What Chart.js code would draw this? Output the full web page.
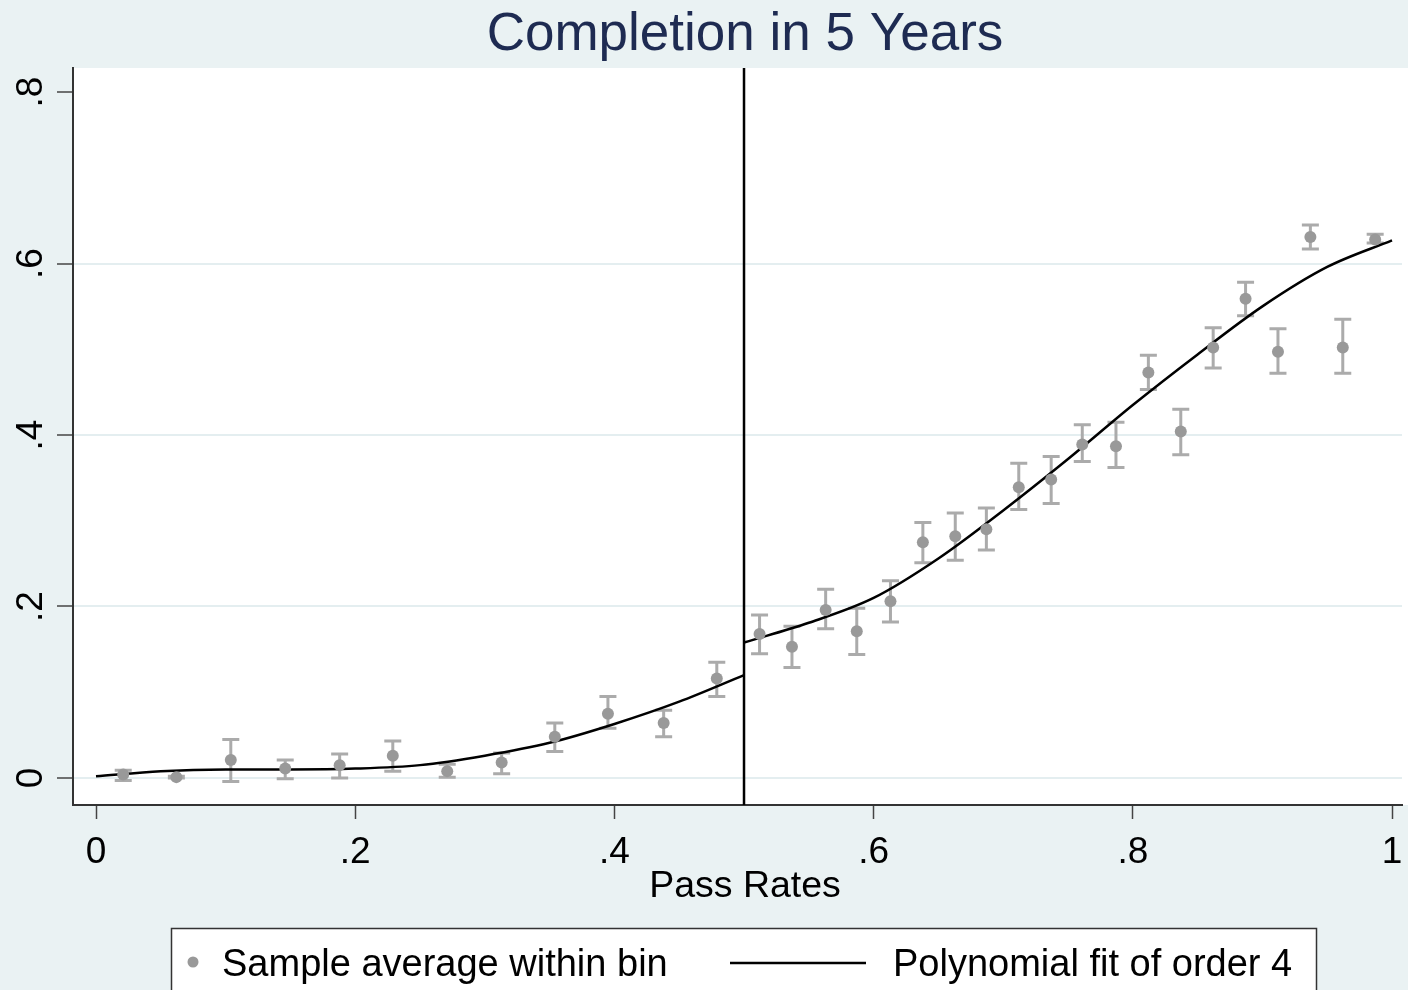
<!DOCTYPE html>
<html>
<head>
<meta charset="utf-8">
<script src="https://cdn.jsdelivr.net/npm/chart.js@4.4.1/dist/chart.umd.min.js"></script>
<style>
html,body{margin:0;padding:0;background:#EAF2F3;}
canvas{display:block;}
</style>
</head>
<body>
<canvas id="c" width="1408" height="990"></canvas>
<script>
// ---- data ----
const titleText = "Completion in 5 Years";
const xAxisTitle = "Pass Rates";
const legendLabels = ["Sample average within bin", "Polynomial fit of order 4"];
const xTickValues = [0, 0.2, 0.4, 0.6, 0.8, 1];
const xTickLabels = ["0", ".2", ".4", ".6", ".8", "1"];
const yTickValues = [0, 0.2, 0.4, 0.6, 0.8];
const yTickLabels = ["0", ".2", ".4", ".6", ".8"];
const cutoff = 0.5;

const binX = [0.021, 0.062, 0.104, 0.146, 0.188, 0.229, 0.271, 0.313, 0.354, 0.395, 0.438, 0.479,
              0.512, 0.537, 0.563, 0.587, 0.613, 0.638, 0.663, 0.687, 0.712, 0.737, 0.761, 0.787,
              0.812, 0.837, 0.862, 0.887, 0.912, 0.937, 0.962, 0.987];
const binMean = [0.004, 0.001, 0.021, 0.011, 0.015, 0.026, 0.008, 0.018, 0.048, 0.075, 0.064, 0.116,
                 0.168, 0.153, 0.196, 0.171, 0.206, 0.275, 0.282, 0.290, 0.339, 0.348, 0.389, 0.387,
                 0.473, 0.404, 0.502, 0.559, 0.497, 0.631, 0.502, 0.628];
const binLow = [-0.003, 0.000, -0.004, -0.001, 0.000, 0.008, 0.001, 0.005, 0.031, 0.058, 0.048, 0.095,
                0.145, 0.129, 0.174, 0.144, 0.182, 0.251, 0.254, 0.266, 0.313, 0.320, 0.369, 0.362,
                0.453, 0.377, 0.478, 0.539, 0.472, 0.617, 0.472, 0.624];
const binHigh = [0.009, 0.002, 0.045, 0.021, 0.028, 0.043, 0.016, 0.029, 0.064, 0.095, 0.079, 0.135,
                 0.190, 0.177, 0.220, 0.198, 0.230, 0.298, 0.309, 0.315, 0.367, 0.375, 0.412, 0.415,
                 0.493, 0.430, 0.525, 0.578, 0.524, 0.645, 0.535, 0.634];

const fitLeftX = [0, 0.05, 0.1, 0.15, 0.2, 0.25, 0.3, 0.35, 0.4, 0.45, 0.5];
const fitLeftY = [0.002, 0.008, 0.010, 0.010, 0.011, 0.015, 0.026, 0.041, 0.063, 0.089, 0.120];
const fitRightX = [0.5, 0.55, 0.6, 0.65, 0.7, 0.75, 0.8, 0.85, 0.9, 0.95, 1.0];
const fitRightY = [0.158, 0.181, 0.210, 0.256, 0.312, 0.372, 0.435, 0.494, 0.550, 0.596, 0.627];

// ---- styles ----
const FONT = '"Liberation Sans", Arial, Helvetica, sans-serif';
const BG = '#EAF2F3';
const DOT = '#999999';
const BAR = '#ABABAB';

const toPts = (xs, ys) => xs.map((x, i) => ({x: x, y: ys[i]}));

const decorPlugin = {
  id: 'decor',
  beforeDraw(chart) {
    const {ctx, chartArea: a} = chart;
    ctx.save();
    ctx.fillStyle = BG;
    ctx.fillRect(0, 0, chart.width, chart.height);
    ctx.fillStyle = '#FFFFFF';
    ctx.fillRect(a.left, a.top, chart.width - a.left, a.bottom - a.top);
    ctx.restore();
  },
  beforeDatasetsDraw(chart) {
    const {ctx, chartArea: a} = chart;
    const xs = chart.scales.x, ys = chart.scales.y;
    ctx.save();
    // cutoff line
    ctx.strokeStyle = '#000000';
    ctx.lineWidth = 2.5;
    const cx = xs.getPixelForValue(cutoff);
    ctx.beginPath();
    ctx.moveTo(cx, a.top);
    ctx.lineTo(cx, a.bottom);
    ctx.stroke();
    // error bars
    ctx.strokeStyle = BAR;
    ctx.lineWidth = 3;
    for (let i = 0; i < binX.length; i++) {
      const px = xs.getPixelForValue(binX[i]);
      const y1 = ys.getPixelForValue(binLow[i]);
      const y2 = ys.getPixelForValue(binHigh[i]);
      ctx.beginPath();
      ctx.moveTo(px, y1); ctx.lineTo(px, y2);
      ctx.moveTo(px - 8.5, y1); ctx.lineTo(px + 8.5, y1);
      ctx.moveTo(px - 8.5, y2); ctx.lineTo(px + 8.5, y2);
      ctx.stroke();
    }
    ctx.restore();
  },
  afterDraw(chart) {
    const {ctx} = chart;
    const xs = chart.scales.x, ys = chart.scales.y;
    ctx.save();
    // title
    ctx.fillStyle = '#1E2B52';
    ctx.font = '53px ' + FONT;
    ctx.textAlign = 'center';
    ctx.textBaseline = 'alphabetic';
    ctx.fillText(titleText, 745, 50);
    // x tick labels
    ctx.fillStyle = '#000000';
    ctx.font = '37px ' + FONT;
    xTickValues.forEach((v, i) => {
      ctx.fillText(xTickLabels[i], xs.getPixelForValue(v), 863);
    });
    // x axis title
    ctx.font = '37.5px ' + FONT;
    ctx.fillText(xAxisTitle, 745, 897);
    // y tick labels rotated
    ctx.font = '37px ' + FONT;
    yTickValues.forEach((v, i) => {
      ctx.save();
      ctx.translate(42, ys.getPixelForValue(v));
      ctx.rotate(-Math.PI / 2);
      ctx.textAlign = 'center';
      ctx.textBaseline = 'alphabetic';
      ctx.fillText(yTickLabels[i], 0, 0);
      ctx.restore();
    });
    // legend
    ctx.fillStyle = '#FFFFFF';
    ctx.fillRect(171, 928, 1146, 70);
    ctx.strokeStyle = '#333333';
    ctx.lineWidth = 1.5;
    ctx.strokeRect(171.5, 928.5, 1145, 70);
    ctx.fillStyle = DOT;
    ctx.beginPath();
    ctx.arc(193, 962, 5.5, 0, Math.PI * 2);
    ctx.fill();
    ctx.fillStyle = '#000000';
    ctx.font = '38px ' + FONT;
    ctx.textAlign = 'left';
    ctx.fillText(legendLabels[0], 222, 976);
    ctx.strokeStyle = '#000000';
    ctx.lineWidth = 2.5;
    ctx.beginPath();
    ctx.moveTo(730, 963); ctx.lineTo(866, 963);
    ctx.stroke();
    ctx.fillText(legendLabels[1], 893, 976);
    ctx.restore();
  }
};

new Chart(document.getElementById('c'), {
  type: 'scatter',
  data: {
    datasets: [
      {
        type: 'line', label: 'fitL', data: toPts(fitLeftX, fitLeftY),
        borderColor: '#000000', borderWidth: 2.5, pointRadius: 0,
        cubicInterpolationMode: 'monotone', fill: false, order: 2
      },
      {
        type: 'line', label: 'fitR', data: toPts(fitRightX, fitRightY),
        borderColor: '#000000', borderWidth: 2.5, pointRadius: 0,
        cubicInterpolationMode: 'monotone', fill: false, order: 2
      },
      {
        type: 'scatter', label: 'bins', data: toPts(binX, binMean),
        backgroundColor: DOT, borderColor: DOT, borderWidth: 0, pointRadius: 6, order: 1
      }
    ]
  },
  options: {
    responsive: false,
    animation: false,
    devicePixelRatio: 1,
    layout: { padding: { top: 68, left: 0, right: 0, bottom: 0 } },
    plugins: { legend: { display: false }, tooltip: { enabled: false }, title: { display: false } },
    scales: {
      x: {
        type: 'linear', min: -0.01775, max: 1.0077,
        afterBuildTicks: s => { s.ticks = xTickValues.map(v => ({value: v})); },
        afterFit: s => { s.height = 185; },
        ticks: { display: false },
        grid: { drawOnChartArea: false, drawTicks: true, tickLength: 14, tickColor: '#444444', tickWidth: 1.5 },
        border: { display: true, color: '#333333', width: 2 }
      },
      y: {
        type: 'linear', min: -0.0315, max: 0.828,
        afterBuildTicks: s => { s.ticks = yTickValues.map(v => ({value: v})); },
        afterFit: s => { s.width = 73; },
        ticks: { display: false },
        grid: {
          drawOnChartArea: true, drawTicks: true, tickLength: 16,
          tickColor: '#444444', tickWidth: 1.5, lineWidth: 2,
          color: c => (c.tick && c.tick.value >= 0.79) ? 'rgba(0,0,0,0)' : '#E4EEF0'
        },
        border: { display: true, color: '#333333', width: 2 }
      }
    }
  },
  plugins: [decorPlugin]
});
</script>
</body>
</html>
